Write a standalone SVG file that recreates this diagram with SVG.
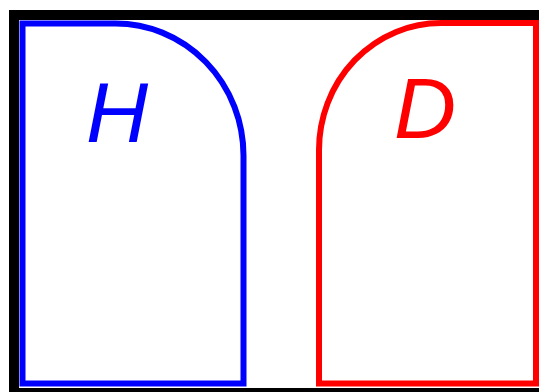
<svg xmlns="http://www.w3.org/2000/svg" width="539" height="392" viewBox="0 0 539 392">
<style>
.shape{fill:none;stroke-width:6;stroke-linejoin:miter}
.lbl{font-family:"Liberation Sans",Arial,sans-serif;font-style:italic;font-size:86px;text-anchor:middle}
</style>
<rect x="0" y="0" width="539" height="392" fill="#fff"/>
<path d="M14 392 V15 H539" fill="none" stroke="#000" stroke-width="10"/>
<rect x="9" y="388" width="530" height="4" fill="#000"/>
<g id="H">
<path class="shape" stroke="#0000ff" d="M22.5 383.5 V23.5 H115 A128 132 0 0 1 243.5 155.5 V383.5 Z"/>
<text class="lbl" x="117" y="142" fill="#0000ff">H</text>
</g>
<g id="D">
<path class="shape" stroke="#ff0000" d="M319 383.5 V150 A122 127 0 0 1 441 23 H536 V383.5 Z"/>
<text class="lbl" x="425" y="138" fill="#ff0000">D</text>
</g>
<g id="connectors"></g>
</svg>
